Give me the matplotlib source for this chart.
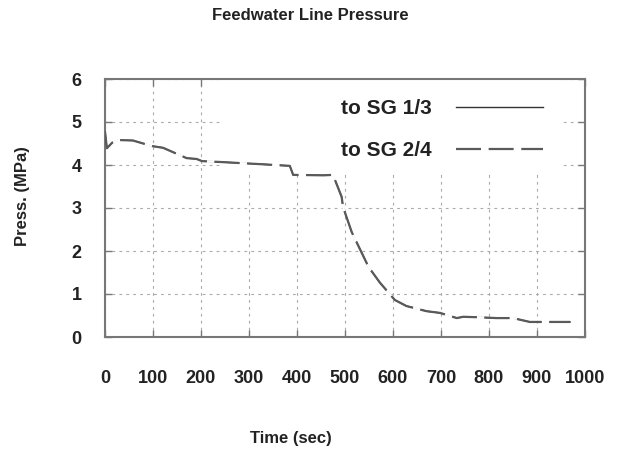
"""Feedwater line pressure, gnuplot-like look."""

import matplotlib

matplotlib.use("Agg")
from matplotlib import pyplot as plt
from matplotlib.patches import Rectangle

time_sec = [0, 4, 15, 28, 58, 98, 121, 170, 191, 202, 240, 323, 385, 392,
            455, 475, 493, 496, 514, 549, 573, 604, 628, 670, 698, 733,
            746, 775, 816, 850, 885, 969]
press_sg13 = [4.77, 4.39, 4.52, 4.58, 4.57, 4.44, 4.40, 4.16, 4.14, 4.09,
              4.07, 4.02, 3.98, 3.77, 3.76, 3.77, 3.26, 3.02, 2.44, 1.63,
              1.26, 0.86, 0.72, 0.60, 0.56, 0.44, 0.47, 0.46, 0.44, 0.44,
              0.35, 0.35]
press_sg24 = list(press_sg13)

x_ticks = list(range(0, 1001, 100))
y_ticks = list(range(0, 7))

plt.rcParams["font.family"] = ["Liberation Sans", "DejaVu Sans"]
plt.rcParams["font.weight"] = "bold"
plt.rcParams["lines.scale_dashes"] = False

W, H = 620, 457
fig = plt.figure(figsize=(W / 100, H / 100), dpi=100)
ax = fig.add_axes([105 / W, 1 - 337 / H, 480 / W, 258 / H])

ax.plot(time_sec, press_sg13, color="#333333", linewidth=1.0,
        label="to SG 1/3", zorder=3)
ax.plot(time_sec, press_sg24, color="#5a5a5a", linewidth=1.6,
        dashes=(18, 5.5), gapcolor="white", label="to SG 2/4", zorder=4)

ax.set_xlim(0, 1000)
ax.set_ylim(0, 6)
ax.set_xticks(x_ticks)
ax.set_yticks(y_ticks)
ax.tick_params(direction="in", length=5, width=1, color="#777777",
               top=True, right=True, labelsize=13, labelcolor="#222222")
ax.tick_params(axis="x", pad=24)
ax.tick_params(axis="y", pad=17)
for spine in ax.spines.values():
    spine.set_color("#777777")
    spine.set_linewidth(1.5)

ax.set_axisbelow(True)
ax.grid(True, color="#aaaaaa", linewidth=0.8, linestyle=(0, (2, 3)))

# gnuplot blanks the grid behind the key
ax.add_patch(Rectangle((0.24, 0.628), 0.714, 0.372, transform=ax.transAxes,
                       facecolor="white", edgecolor="none", zorder=1))

leg = ax.legend(loc="upper right", bbox_to_anchor=(0.9125, 0.923),
                frameon=False, markerfirst=False, fontsize=15,
                handlelength=4.2, handletextpad=1.15, labelspacing=1.12,
                borderpad=0, borderaxespad=0)
for text in leg.get_texts():
    text.set_color("#222222")

fig.text(0.5, 1 - 15 / H, "Feedwater Line Pressure", ha="center",
         va="center", fontsize=12, color="#222222")
fig.text(291 / W, 1 - 438 / H, "Time (sec)", ha="center", va="center",
         fontsize=12, color="#222222")
fig.text(23 / W, 1 - 196 / H, "Press. (MPa)", ha="center", va="center",
         rotation=90, fontsize=12, color="#222222")

fig.savefig("out.png", dpi=100)
